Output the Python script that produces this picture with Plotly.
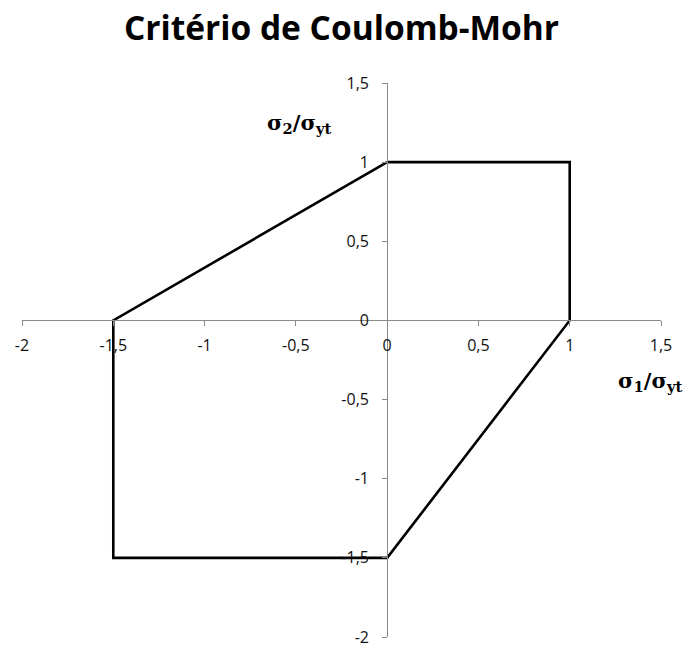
import plotly.graph_objects as go

# Coulomb-Mohr failure envelope (normalized stresses)
sigma1 = [0, 1, 1, 0, -1.5, -1.5, 0]
sigma2 = [1, 1, 0, -1.5, -1.5, 0, 1]

x_range = [-2, 1.5]
y_range = [-2, 1.5]
x_tick_vals = [-2, -1.5, -1, -0.5, 0, 0.5, 1, 1.5]
x_tick_text = ["-2", "-1,5", "-1", "-0,5", "0", "0,5", "1", "1,5"]
y_tick_vals = [-2, -1.5, -1, -0.5, 0, 0.5, 1, 1.5]
y_tick_text = ["-2", "-1,5", "-1", "-0,5", "0", "0,5", "1", "1,5"]

title = "Critério de Coulomb-Mohr"
x_label = "σ<sub>1</sub>/σ<sub>yt</sub>"
y_label = "σ<sub>2</sub>/σ<sub>yt</sub>"

# axes cross at the origin: place each axis line at the fraction where 0 lies
x_cross = (0 - x_range[0]) / (x_range[1] - x_range[0])
y_cross = (0 - y_range[0]) / (y_range[1] - y_range[0])

fig = go.Figure()
fig.add_trace(go.Scatter(
    x=sigma1, y=sigma2, mode="lines",
    line=dict(color="black", width=2.6),
    hoverinfo="skip", showlegend=False,
))

tick_font = dict(family="Open Sans, sans-serif", size=16, color="#111")
axis_common = dict(
    showgrid=False, zeroline=False, showline=True,
    linecolor="#8a8a8a", linewidth=1,
    ticks="outside", ticklen=5, tickcolor="#8a8a8a", tickwidth=1,
    tickfont=tick_font, tickmode="array", ticklabeloverflow="allow",
    automargin=False,
)

fig.update_layout(
    width=689, height=648,
    margin=dict(l=22, r=28, t=83, b=11),
    paper_bgcolor="white", plot_bgcolor="white",
    title=dict(
        text="<b>" + title + "</b>",
        x=0.5, xanchor="center", xref="paper",
        y=1 - 28 / 648, yanchor="middle",
        font=dict(family="Open Sans, sans-serif", size=33.5, color="black"),
    ),
    xaxis=dict(
        range=x_range, tickvals=x_tick_vals, ticktext=x_tick_text,
        anchor="free", position=y_cross, side="bottom",
        ticklabelstandoff=5, **axis_common,
    ),
    yaxis=dict(
        range=y_range, tickvals=y_tick_vals, ticktext=y_tick_text,
        anchor="free", position=x_cross, side="left",
        ticklabelstandoff=10, **axis_common,
    ),
    annotations=[
        dict(
            text="<b>" + x_label + "</b>", x=1.5, y=0, xref="x", yref="y",
            xanchor="center", yanchor="middle", xshift=-11, yshift=-61,
            showarrow=False,
            font=dict(family="DejaVu Serif, serif", size=21, color="black"),
        ),
        dict(
            text="<b>" + y_label + "</b>", x=0, y=1.5, xref="x", yref="y",
            xanchor="center", yanchor="middle", xshift=-88, yshift=-40,
            showarrow=False,
            font=dict(family="DejaVu Serif, serif", size=21, color="black"),
        ),
    ],
    separators=",.",
)

fig.write_html("out.html")
